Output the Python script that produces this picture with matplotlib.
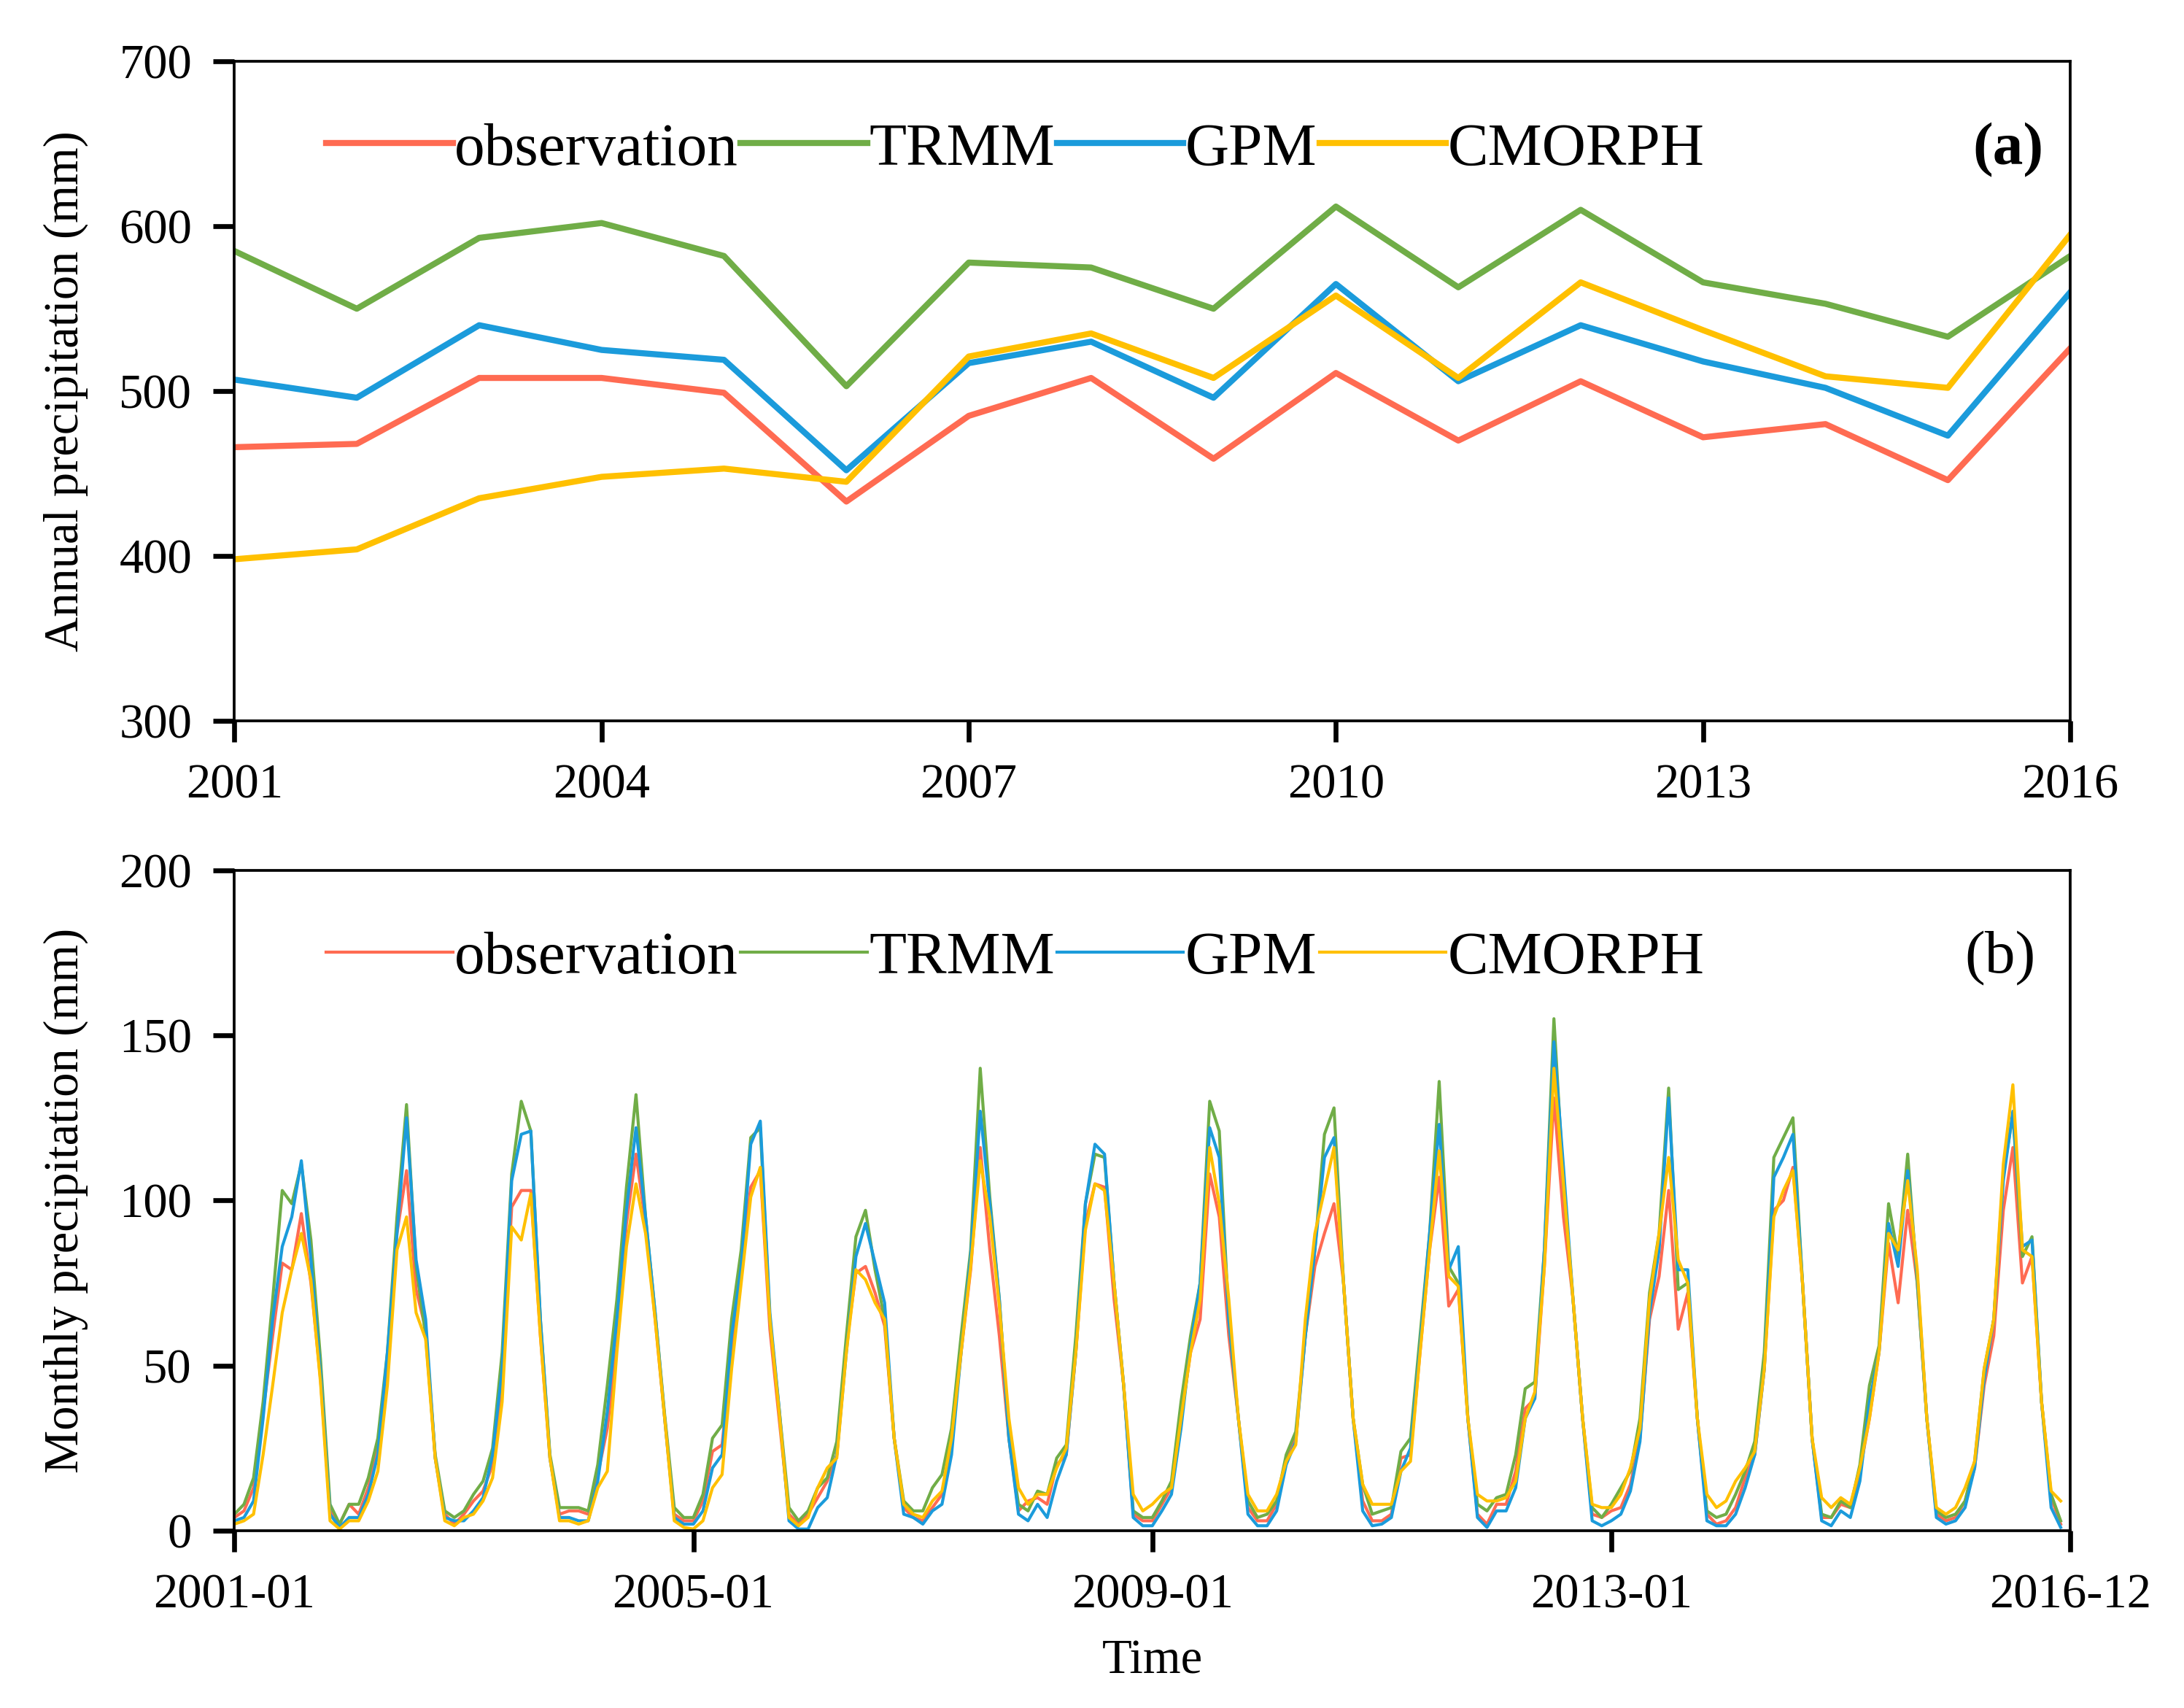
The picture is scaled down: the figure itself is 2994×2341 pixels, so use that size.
import numpy as np
import matplotlib
matplotlib.use('Agg')
import matplotlib.pyplot as plt

plt.rcParams['font.family'] = ['Liberation Serif', 'DejaVu Serif']
plt.rcParams['mathtext.fontset'] = 'stix'

# annual totals (mm)
years = list(range(2001, 2017))
obs_year = [466, 468, 508, 508, 499, 433, 485, 508, 459, 511, 470, 506, 472, 480, 446, 526]
trmm_year = [585, 550, 593, 602, 582, 503, 578, 575, 550, 612, 563, 610, 566, 553, 533, 582]
gpm_year = [507, 496, 540, 525, 519, 452, 517, 530, 496, 565, 506, 540, 518, 502, 473, 560]
cmorph_year = [398, 404, 435, 448, 453, 445, 521, 535, 508, 558, 508, 566, 537, 509, 502, 595]

# monthly totals (mm), 2001-01 .. 2016-12, one row per year
obs_month = [
    4, 6, 13, 36, 59, 81, 79, 96, 75, 46, 6, 2,
    8, 5, 13, 25, 49, 90, 109, 73, 61, 22, 5, 2,
    5, 9, 12, 20, 46, 98, 103, 103, 59, 22, 5, 6,
    6, 5, 17, 31, 56, 93, 114, 93, 64, 34, 5, 3,
    3, 9, 24, 26, 54, 80, 104, 109, 61, 33, 5, 2,
    5, 10, 15, 23, 56, 78, 80, 72, 62, 28, 7, 4,
    3, 7, 11, 27, 54, 79, 116, 85, 59, 28, 6, 9,
    10, 8, 20, 23, 54, 93, 105, 104, 70, 44, 5, 3,
    3, 8, 13, 34, 54, 64, 108, 95, 59, 34, 7, 3,
    3, 8, 22, 28, 59, 80, 90, 99, 75, 34, 9, 3,
    3, 5, 22, 23, 54, 85, 107, 68, 73, 34, 5, 2,
    8, 8, 18, 37, 40, 80, 131, 95, 70, 34, 5, 4,
    6, 7, 14, 28, 64, 77, 103, 61, 72, 34, 5, 2,
    3, 7, 16, 23, 49, 97, 100, 110, 75, 28, 4, 4,
    8, 7, 18, 34, 54, 87, 69, 97, 75, 34, 5, 3,
    4, 9, 19, 44, 59, 97, 116, 75, 83, 39, 10, 2,
]
trmm_month = [
    5, 8, 16, 39, 70, 103, 99, 111, 88, 52, 8, 2,
    8, 8, 16, 28, 54, 95, 129, 80, 59, 23, 6, 4,
    6, 11, 15, 25, 54, 108, 130, 121, 64, 23, 7, 7,
    7, 6, 20, 44, 70, 104, 132, 95, 66, 35, 7, 4,
    4, 11, 28, 32, 64, 85, 119, 122, 64, 36, 7, 3,
    6, 13, 16, 27, 59, 89, 97, 79, 64, 28, 9, 6,
    6, 13, 17, 31, 59, 85, 140, 101, 70, 28, 8, 6,
    12, 11, 22, 26, 59, 99, 114, 113, 75, 44, 6, 4,
    4, 9, 15, 39, 59, 75, 130, 121, 64, 34, 9, 4,
    5, 9, 23, 30, 59, 85, 120, 128, 75, 34, 14, 5,
    6, 7, 24, 28, 59, 90, 136, 80, 75, 34, 8, 6,
    10, 11, 23, 43, 45, 85, 155, 105, 70, 34, 7, 4,
    8, 13, 18, 34, 72, 90, 134, 73, 75, 34, 6, 4,
    5, 11, 18, 27, 54, 113, 119, 125, 75, 28, 5, 4,
    9, 7, 20, 44, 56, 99, 83, 114, 75, 34, 6, 4,
    5, 9, 21, 49, 64, 108, 126, 83, 89, 39, 11, 3,
]
gpm_month = [
    3, 4, 9, 34, 64, 86, 95, 112, 82, 48, 5, 1,
    4, 4, 11, 23, 54, 90, 125, 82, 64, 22, 4, 3,
    3, 6, 10, 23, 49, 106, 120, 121, 64, 22, 4, 4,
    3, 3, 15, 36, 64, 97, 122, 95, 66, 34, 4, 2,
    2, 6, 19, 23, 59, 80, 117, 124, 66, 36, 3, 0.5,
    0.5, 7, 10, 23, 54, 83, 93, 81, 69, 28, 5, 4,
    2, 6, 8, 23, 54, 83, 127, 99, 70, 28, 5, 3,
    8, 4, 15, 23, 54, 99, 117, 114, 75, 44, 4, 1.5,
    1.5, 6, 11, 31, 56, 75, 122, 113, 64, 34, 5, 1.5,
    1.5, 6, 20, 27, 59, 85, 113, 119, 75, 34, 6, 1.5,
    2, 4, 18, 25, 56, 90, 123, 79, 86, 34, 4, 1,
    6, 6, 13, 34, 40, 85, 148, 110, 70, 34, 3, 1.5,
    3, 5, 12, 27, 66, 85, 131, 79, 79, 34, 3, 1.5,
    1.5, 5, 13, 23, 49, 107, 113, 120, 75, 28, 3, 1.5,
    6, 4, 15, 39, 54, 93, 80, 109, 77, 34, 4, 2,
    3, 7, 19, 46, 64, 106, 127, 86, 88, 39, 7, 1,
]
cmorph_month = [
    2, 3, 5, 23, 44, 66, 79, 90, 76, 45, 3, 0.5,
    3, 3, 9, 18, 44, 85, 95, 66, 58, 22, 3, 1.5,
    4, 5, 9, 16, 39, 92, 88, 102, 59, 22, 3, 3,
    2, 3, 13, 18, 54, 86, 105, 90, 64, 34, 3, 1,
    0.5, 3, 13, 17, 49, 75, 101, 110, 64, 35, 4, 1.5,
    4, 13, 19, 22, 54, 79, 76, 69, 64, 28, 8, 5,
    4, 9, 12, 28, 54, 80, 112, 95, 68, 34, 13, 8,
    11, 11, 19, 25, 54, 91, 105, 103, 75, 44, 11, 6,
    8, 11, 13, 34, 54, 70, 116, 99, 70, 34, 11, 6,
    6, 11, 21, 26, 64, 90, 103, 116, 75, 34, 14, 8,
    8, 8, 18, 21, 54, 85, 115, 77, 74, 34, 11, 9,
    9, 10, 15, 34, 42, 80, 140, 105, 70, 34, 8, 7,
    7, 11, 19, 31, 70, 90, 113, 82, 75, 34, 11, 7,
    9, 15, 19, 24, 49, 95, 103, 109, 75, 28, 10, 7,
    10, 8, 19, 34, 54, 90, 85, 106, 79, 34, 7, 5,
    7, 13, 21, 49, 64, 111, 135, 85, 83, 39, 12, 9,
]

labels = ['observation', 'TRMM', 'GPM', 'CMORPH']
colors = ['#FF6B52', '#70AD47', '#1B9BDB', '#FFC000']
month_ticks = [0, 48, 96, 144, 192]
month_labels = ['2001-01', '2005-01', '2009-01', '2013-01', '2016-12']

fig = plt.figure(figsize=(2995 / 300, 2341 / 300), dpi=300)
ax1 = fig.add_axes([0.1073, 0.578, 0.8403, 0.386])
ax2 = fig.add_axes([0.1073, 0.1038, 0.8403, 0.3868])


def style(ax):
    for s in ax.spines.values():
        s.set_linewidth(0.9)
    ax.tick_params(direction='out', length=7, width=1.6, labelsize=16, pad=7)


def add_legend(ax):
    ax.legend(loc='center left', bbox_to_anchor=(0.05, 0.866), ncol=4, frameon=False,
              fontsize=20, handlelength=2.08, handletextpad=0.03, columnspacing=0.04,
              borderaxespad=0, borderpad=0)


# (a) annual
for vals, lab, c in zip([obs_year, trmm_year, gpm_year, cmorph_year], labels, colors):
    ax1.plot(years, vals, color=c, lw=2.0, label=lab)
ax1.set_xlim(2001, 2016)
ax1.set_ylim(300, 700)
ax1.set_xticks(range(2001, 2017, 3))
ax1.set_yticks(range(300, 701, 100))
ax1.set_ylabel('Annual precipitation (mm)', fontsize=16, labelpad=10)
style(ax1)
add_legend(ax1)
ax1.text(0.966, 0.866, '(a)', transform=ax1.transAxes, fontsize=20,
         fontweight='bold', ha='center', va='center')

# (b) monthly
t = np.arange(len(obs_month))
for vals, lab, c in zip([obs_month, trmm_month, gpm_month, cmorph_month], labels, colors):
    ax2.plot(t, vals, color=c, lw=1.0, label=lab)
ax2.set_xlim(0, 192)
ax2.set_ylim(0, 200)
ax2.set_xticks(month_ticks)
ax2.set_xticklabels(month_labels)
ax2.set_yticks(range(0, 201, 50))
ax2.set_ylabel('Monthly precipitation (mm)', fontsize=16, labelpad=10)
ax2.set_xlabel('Time', fontsize=16, labelpad=7)
style(ax2)
add_legend(ax2)
ax2.text(0.962, 0.866, '(b)', transform=ax2.transAxes, fontsize=20,
         ha='center', va='center')

fig.savefig('out.png', dpi=300)
